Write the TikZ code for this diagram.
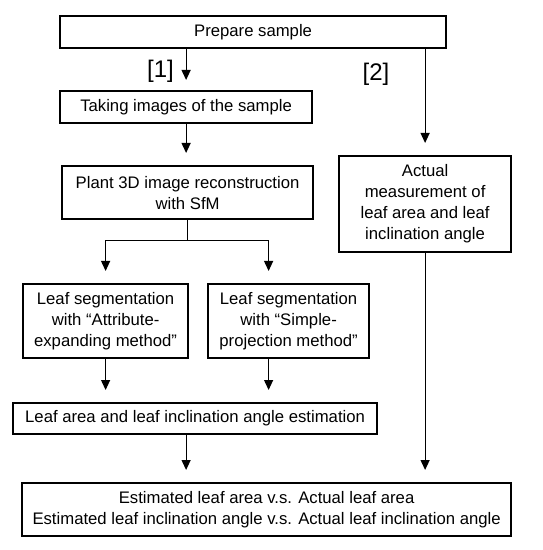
\documentclass[tikz,border=0pt]{standalone}
\usepackage{fontspec}
\setmainfont{Liberation Sans}
\usetikzlibrary{positioning, arrows.meta}

\begin{document}
\begin{tikzpicture}[x=0.5pt, y=-0.5pt, font=\fontsize{8.35}{10.5}\selectfont]
    \tikzstyle{procnode} = [draw=black, line width=1.1pt, inner sep=2pt, align=center, anchor=north west]
    \tikzstyle{flow} = [-{Triangle[length=5pt,width=4.5pt]}, line width=0.6pt, shorten >=6pt]
    \tikzstyle{pathlabel} = [inner sep=0pt, font=\fontsize{12}{14}\selectfont]

    \useasboundingbox (0,0) rectangle (542,550);

    \node [procnode, minimum width=193pt, minimum height=16pt] (prep) at (59,15) {Prepare sample};
    \node [procnode, minimum width=126pt, minimum height=16pt] (img1) at (59,90) {Taking images of the sample};
    \node [procnode, minimum width=125.5pt, minimum height=26.5pt] (rec1) at (61,165) {Plant 3D image reconstruction\\with SfM};
    \node [procnode, minimum width=86pt, minimum height=48pt] (meas) at (338,155) {Actual\\measurement of\\leaf area and leaf\\inclination angle};
    \node [procnode, minimum width=82.5pt, minimum height=37pt] (seg1) at (22,283) {Leaf segmentation\\with ``Attribute-\\expanding method''};
    \node [procnode, minimum width=80.5pt, minimum height=37pt] (seg2) at (207,283) {Leaf segmentation\\with ``Simple-\\projection method''};
    \node [procnode, minimum width=182pt, minimum height=15.5pt] (est1) at (12,402) {Leaf area and leaf inclination angle estimation};
    \node [procnode, minimum width=244.5pt, minimum height=26.5pt] (cmp1) at (21,482) {Estimated leaf area v.s. Actual leaf area\\Estimated leaf inclination angle v.s. Actual leaf inclination angle};

    \node [pathlabel] (lab1) at (160.5,71) {[1]};
    \node [pathlabel] (lab2) at (376,74) {[2]};

    \draw [flow, shorten >=5pt] (prep.south -| img1) -- (img1.north);
    \draw [flow] (prep.south -| meas) -- (meas.north);
    \draw [flow] (img1.south) -- (img1.south |- rec1.north);
    \draw [flow] (rec1.south) -- ++(0,20) -| (seg1.north);
    \draw [flow] (rec1.south) -- ++(0,20) -| ([xshift=-10pt]seg2.north);
    \draw [flow] (seg1.south) -- (seg1.south |- est1.north);
    \draw [flow] ([xshift=-10pt]seg2.south) -- ([xshift=-10pt]seg2.south |- est1.north);
    \draw [flow] (est1.south -| img1) -- (cmp1.north -| img1);
    \draw [flow] (meas.south) -- (meas.south |- cmp1.north);
  \end{tikzpicture}
\end{document}
